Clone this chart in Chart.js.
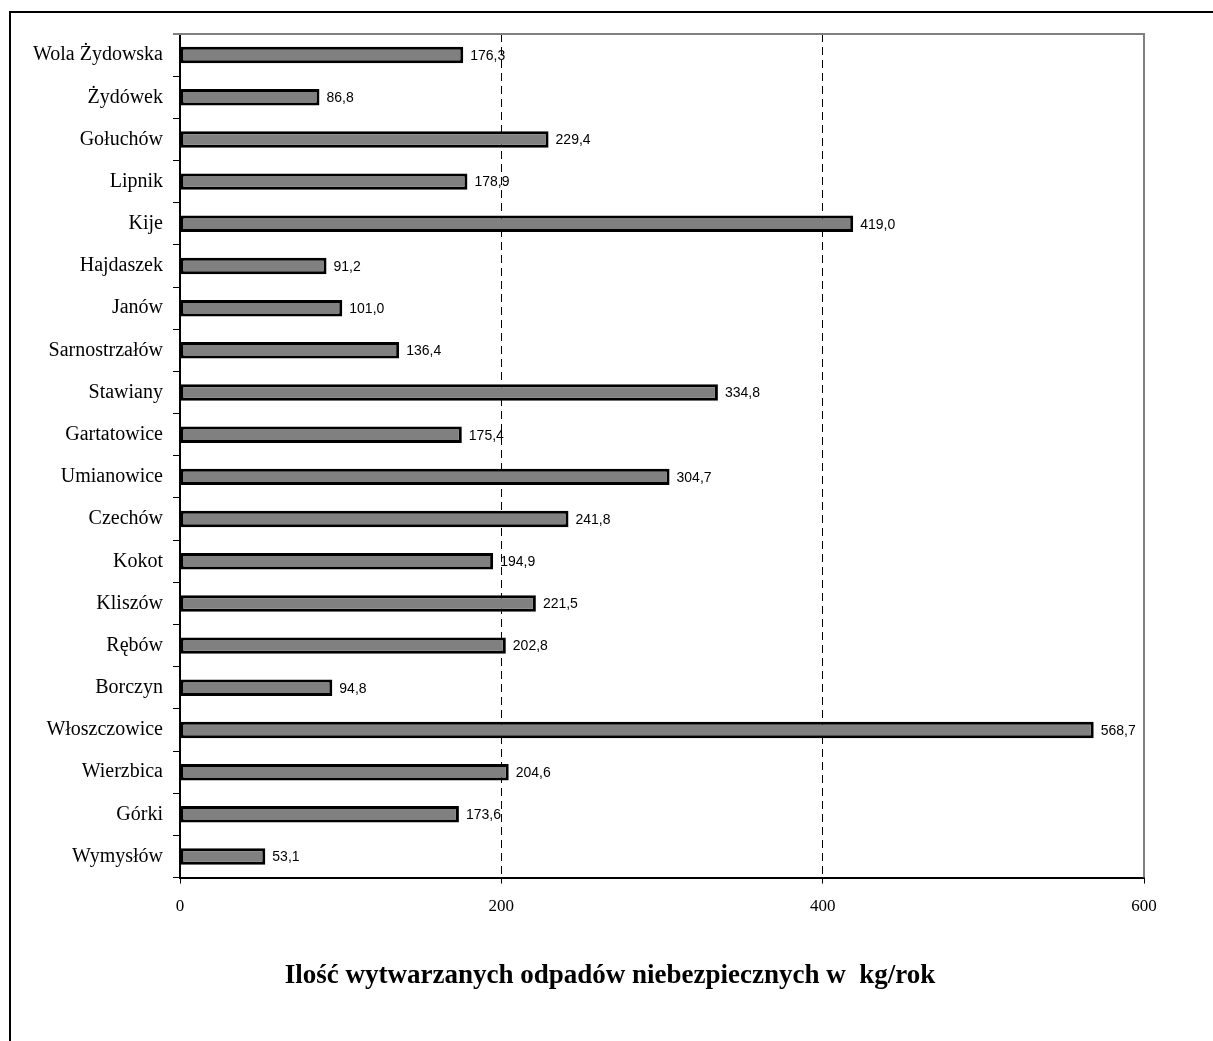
<!DOCTYPE html>
<html>
<head>
<meta charset="utf-8">
<script src="https://cdn.jsdelivr.net/npm/chart.js@4.4.1/dist/chart.umd.min.js"></script>
<style>
  html,body{margin:0;padding:0;background:#fff;overflow:hidden;}
  #wrap{position:relative;width:1213px;height:1041px;}
  #frame{position:absolute;left:9px;top:11px;width:1300px;height:1100px;border-top:2px solid #000;border-left:2px solid #000;pointer-events:none;}
</style>
</head>
<body>
<div id="wrap">
  <canvas id="wasteChart"></canvas>
  <div id="frame"></div>
</div>
<script>
const villages = ["Wola Żydowska","Żydówek","Gołuchów","Lipnik","Kije","Hajdaszek","Janów","Sarnostrzałów",
  "Stawiany","Gartatowice","Umianowice","Czechów","Kokot","Kliszów","Rębów","Borczyn","Włoszczowice",
  "Wierzbica","Górki","Wymysłów"];
const waste = [176.3,86.8,229.4,178.9,419.0,91.2,101.0,136.4,334.8,175.4,304.7,241.8,194.9,221.5,202.8,94.8,568.7,204.6,173.6,53.1];
const xTicks = [0,200,400,600];
const axisTitle = "Ilość wytwarzanych odpadów niebezpiecznych w  kg/rok";

// wartosci przy slupkach
const valueLabels = {
  id: "valueLabels",
  afterDatasetsDraw(chart){
    const ctx = chart.ctx;
    const meta = chart.getDatasetMeta(0);
    ctx.save();
    ctx.font = '14px "Liberation Sans", Arial, sans-serif';
    ctx.fillStyle = "#000";
    ctx.textBaseline = "middle";
    ctx.textAlign = "left";
    meta.data.forEach((bar,i)=>{
      const txt = waste[i].toFixed(1).replace(".", ",");
      ctx.fillText(txt, bar.x + 7, bar.y + 1);
    });
    ctx.restore();
  }
};

// gorna i prawa ramka obszaru wykresu
const plotFrame = {
  id: "plotFrame",
  afterLayout(chart){
    // przesuniecie tytulu troche w prawo
    const tb = chart.titleBlock;
    if (tb) { tb.left += 76; tb.width = tb.right - tb.left; }
  },
  beforeDatasetsDraw(chart){
    const {ctx, chartArea:a} = chart;
    ctx.save();
    ctx.strokeStyle = "#808080";
    ctx.lineWidth = 2;
    ctx.beginPath();
    ctx.moveTo(a.left - 7, a.top);
    ctx.lineTo(a.right, a.top);
    ctx.lineTo(a.right, a.bottom);
    ctx.stroke();
    ctx.restore();
  }
};

const ctx = document.getElementById("wasteChart").getContext("2d");
new Chart(ctx, {
  type: "bar",
  data: {
    labels: villages,
    datasets: [{
      data: waste,
      backgroundColor: "#808080",
      borderColor: "#000",
      borderWidth: 3,
      borderSkipped: false,
      categoryPercentage: 1,
      barPercentage: 0.39
    }]
  },
  options: {
    indexAxis: "y",
    responsive: true,
    maintainAspectRatio: false,
    animation: false,
    layout: { padding: { top: 34, right: 69, left: 0, bottom: 0 } },
    plugins: {
      legend: { display: false },
      tooltip: { enabled: false },
      title: {
        display: true,
        position: "bottom",
        text: axisTitle,
        color: "#000",
        font: { family: '"Liberation Serif", "Times New Roman", serif', size: 27, weight: "bold" },
        padding: { top: 10, bottom: 49 }
      }
    },
    scales: {
      x: {
        min: 0, max: 600,
        afterBuildTicks: s => { s.ticks = xTicks.map(v => ({value: v})); },
        afterFit: s => { s.height = 72; },
        border: { display: true, color: "#000", width: 2, dash: [8, 5] },
        grid: {
          color: c => (c.tick && (c.tick.value === 200 || c.tick.value === 400 || c.tick.value === 600)) ? "#000" : "rgba(0,0,0,0)",
          lineWidth: 1,
          tickLength: 6,
          tickColor: "#000",
          tickBorderDash: []
        },
        ticks: {
          color: "#000",
          padding: 13,
          maxRotation: 0,
          font: { family: '"Liberation Serif", "Times New Roman", serif', size: 17 }
        }
      },
      y: {
        afterFit: s => { s.width = 180; },
        border: { display: true, color: "#000", width: 2 },
        grid: {
          drawOnChartArea: false,
          offset: true,
          tickLength: 7,
          color: "#000"
        },
        ticks: {
          color: "#000",
          padding: 10,
          autoSkip: false,
          font: { family: '"Liberation Serif", "Times New Roman", serif', size: 20 }
        }
      }
    }
  },
  plugins: [plotFrame, valueLabels]
});
</script>
</body>
</html>
